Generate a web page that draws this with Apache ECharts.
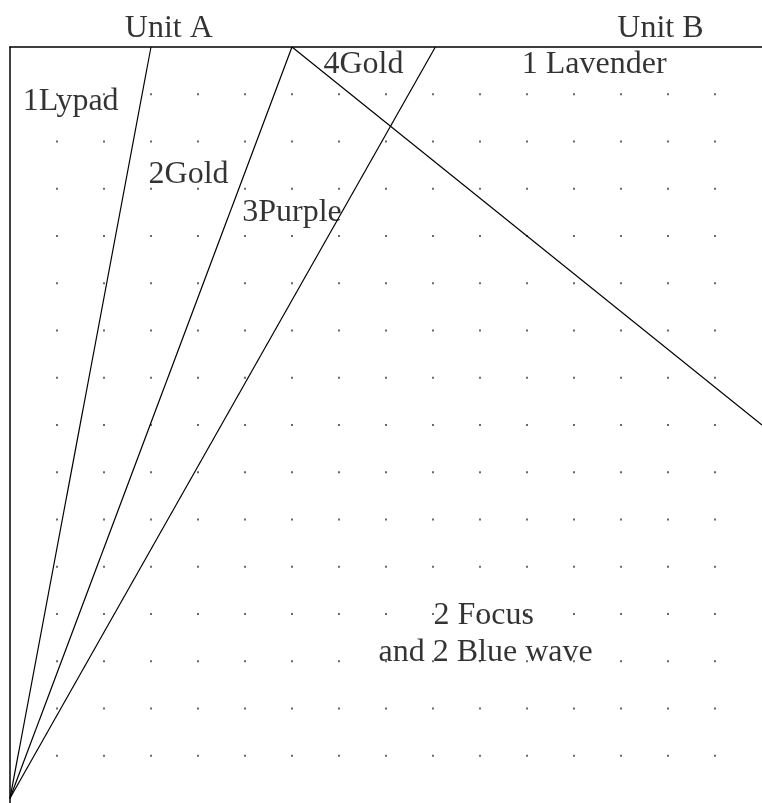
<!DOCTYPE html>
<html>
<head>
<meta charset="utf-8">
<script src="https://cdn.jsdelivr.net/npm/echarts@6/dist/echarts.min.js"></script>
<style>
  html, body { margin: 0; padding: 0; background: #fff; }
  #chart { width: 762px; height: 803px; }
</style>
</head>
<body>
<div id="chart"></div>
<script>
// grid of dots (interior grid points)
var dotCols = [1, 2, 3, 4, 5, 6, 7, 8, 9, 10, 11, 12, 13, 14, 15];
var dotRows = [1, 2, 3, 4, 5, 6, 7, 8, 9, 10, 11, 12, 13, 14, 15];

// the four straight lines
var lineLypad = [[0, 0.1], [3, 16]];
var lineGold = [[0, 0.1], [6, 16]];
var linePurple = [[0, 0.1], [9.05, 16]];
var lineLavender = [[6, 16], [16, 8]];

// text annotations in data coordinates
var labelNames = ['1Lypad', '4Gold', '1 Lavender', '2Gold', '3Purple', '2 Focus', 'and 2 Blue wave', 'Unit A', 'Unit B'];
var labelX = [1.29, 7.52, 12.43, 3.80, 6.00, 10.08, 10.12, 3.38, 13.84];
var labelY = [14.85, 15.63, 15.63, 13.31, 12.49, 3.97, 3.19, 16.40, 16.40];

var dots = [];
dotCols.forEach(function (c) {
  dotRows.forEach(function (r) {
    dots.push([c, r]);
  });
});

var labelData = labelNames.map(function (n, i) {
  return { name: n, value: [labelX[i], labelY[i]] };
});

var serifFont = "'Liberation Serif', 'DejaVu Serif', serif";

function lineSeries(data) {
  return {
    type: 'line',
    data: data,
    symbol: 'none',
    silent: true,
    lineStyle: { color: '#000', width: 1.2 },
    z: 3
  };
}

var chart = echarts.init(document.getElementById('chart'), null, { renderer: 'canvas' });

var option = {
  backgroundColor: '#fff',
  animation: false,
  grid: { left: 10, top: 47, width: 757, height: 758 },
  xAxis: {
    type: 'value',
    position: 'top',
    min: 0,
    max: 16,
    axisLine: { show: true, onZero: false, lineStyle: { color: '#000', width: 1.5 } },
    axisTick: { show: false },
    axisLabel: { show: false },
    splitLine: { show: false }
  },
  yAxis: {
    type: 'value',
    min: 0,
    max: 16,
    axisLine: { show: true, onZero: false, lineStyle: { color: '#000', width: 1.5 } },
    axisTick: { show: false },
    axisLabel: { show: false },
    splitLine: { show: false }
  },
  series: [
    {
      type: 'scatter',
      data: dots,
      symbol: 'rect',
      symbolSize: 2,
      silent: true,
      itemStyle: { color: '#444' },
      z: 1
    },
    lineSeries(lineLypad),
    lineSeries(lineGold),
    lineSeries(linePurple),
    lineSeries(lineLavender),
    {
      type: 'scatter',
      data: labelData,
      symbolSize: 0,
      silent: true,
      clip: false,
      label: {
        show: true,
        position: 'inside',
        formatter: '{b}',
        color: '#000',
        fontFamily: serifFont,
        fontSize: 32
      },
      z: 5
    }
  ]
};

chart.setOption(option);
</script>
</body>
</html>
